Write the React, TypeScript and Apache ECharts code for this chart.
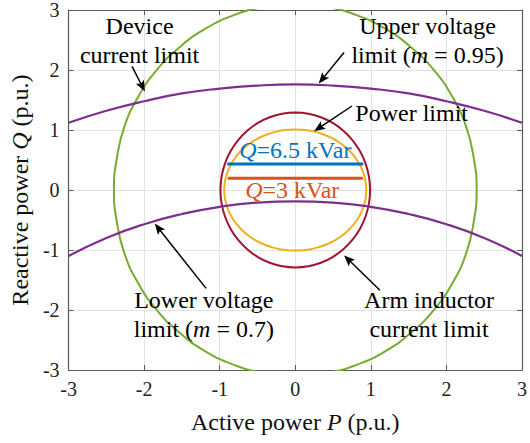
import React, { useEffect, useRef } from "react";
import * as echarts from "echarts";

const FONT = "Liberation Serif, serif";

// Axis ticks (p.u.)
const P_TICKS = [-3, -2, -1, 0, 1, 2, 3];
const Q_TICKS = [-3, -2, -1, 0, 1, 2, 3];

// Device current limit (ellipse), [P, Q], clockwise from the top
const deviceCurrentLimit = [
  [0, 3.1], [0.42, 3.05], [0.82, 2.91], [1.2, 2.68], [1.54, 2.37], [1.84, 1.99], [2.08, 1.55],
  [2.26, 1.06], [2.36, 0.54], [2.4, 0], [2.36, -0.54], [2.26, -1.06], [2.08, -1.55],
  [1.84, -1.99], [1.54, -2.37], [1.2, -2.68], [0.82, -2.91], [0.42, -3.05], [0, -3.1],
  [-0.42, -3.05], [-0.82, -2.91], [-1.2, -2.68], [-1.54, -2.37], [-1.84, -1.99], [-2.08, -1.55],
  [-2.26, -1.06], [-2.36, -0.54], [-2.4, 0], [-2.36, 0.54], [-2.26, 1.06], [-2.08, 1.55],
  [-1.84, 1.99], [-1.54, 2.37], [-1.2, 2.68], [-0.82, 2.91], [-0.42, 3.05], [0, 3.1],
];

// Arm inductor current limit
const armInductorLimit = [
  [0, 1.29], [0.172, 1.27], [0.339, 1.212], [0.495, 1.117], [0.636, 0.988], [0.758, 0.829],
  [0.857, 0.645], [0.93, 0.441], [0.975, 0.224], [0.99, 0], [0.975, -0.224], [0.93, -0.441],
  [0.857, -0.645], [0.758, -0.829], [0.636, -0.988], [0.495, -1.117], [0.339, -1.212],
  [0.172, -1.27], [0, -1.29], [-0.172, -1.27], [-0.339, -1.212], [-0.495, -1.117],
  [-0.636, -0.988], [-0.758, -0.829], [-0.857, -0.645], [-0.93, -0.441], [-0.975, -0.224],
  [-0.99, 0], [-0.975, 0.224], [-0.93, 0.441], [-0.857, 0.645], [-0.758, 0.829],
  [-0.636, 0.988], [-0.495, 1.117], [-0.339, 1.212], [-0.172, 1.27], [0, 1.29],
];

// Power limit
const powerLimit = [
  [0, 1.01], [0.163, 0.995], [0.321, 0.949], [0.47, 0.875], [0.604, 0.774], [0.72, 0.649],
  [0.814, 0.505], [0.883, 0.345], [0.926, 0.175], [0.94, 0], [0.926, -0.175], [0.883, -0.345],
  [0.814, -0.505], [0.72, -0.649], [0.604, -0.774], [0.47, -0.875], [0.321, -0.949],
  [0.163, -0.995], [0, -1.01], [-0.163, -0.995], [-0.321, -0.949], [-0.47, -0.875],
  [-0.604, -0.774], [-0.72, -0.649], [-0.814, -0.505], [-0.883, -0.345], [-0.926, -0.175],
  [-0.94, 0], [-0.926, 0.175], [-0.883, 0.345], [-0.814, 0.505], [-0.72, 0.649],
  [-0.604, 0.774], [-0.47, 0.875], [-0.321, 0.949], [-0.163, 0.995], [0, 1.01],
];

// Upper voltage limit (m = 0.95)
const upperVoltageLimit = [
  [-3, 1.12], [-2.5, 1.32], [-2, 1.48], [-1.5, 1.61], [-1, 1.69], [-0.5, 1.74], [0, 1.76],
  [0.5, 1.74], [1, 1.69], [1.5, 1.61], [2, 1.48], [2.5, 1.32], [3, 1.12],
];

// Lower voltage limit (m = 0.7)
const lowerVoltageLimit = [
  [-3, -1.1], [-2.5, -0.8], [-2, -0.57], [-1.5, -0.4], [-1, -0.28], [-0.5, -0.21], [0, -0.19],
  [0.5, -0.21], [1, -0.28], [1.5, -0.4], [2, -0.57], [2.5, -0.8], [3, -1.1],
];

// Operating points
const q65Line = [[-0.9, 0.435], [0.9, 0.435]];
const q3Line = [[-0.895, 0.196], [0.895, 0.196]];

// Annotation arrows: [tail, tip] in (P, Q)
const arrows = [
  [[-2.16, 2.06], [-1.99, 1.64]],
  [[0.645, 2.29], [0.31, 1.775]],
  [[0.75, 1.4], [0.25, 0.98]],
  [[-1.18, -1.64], [-1.86, -0.56]],
  [[1.12, -1.67], [0.645, -1.09]],
];

const COLORS = {
  green: "#77AC30",
  purple: "#7E2F8E",
  red: "#A2142F",
  yellow: "#EDB120",
  blue: "#0072BD",
  orange: "#D95319",
};

const AXIS_COLOR = "#5a5a5a";
const GRID_COLOR = "#e3e3e3";

export default function App() {
  const ref = useRef<HTMLDivElement>(null);

  useEffect(() => {
    if (!ref.current) return;
    const chart = echarts.init(ref.current, null, { renderer: "svg" });

    const baseAxis = {
      type: "value" as const,
      min: P_TICKS[0],
      max: P_TICKS[P_TICKS.length - 1],
      interval: 1,
      axisLine: { show: true, onZero: false, lineStyle: { color: AXIS_COLOR, width: 1.2 } },
      axisTick: { show: true, inside: true, length: 5, lineStyle: { color: AXIS_COLOR } },
    };

    const curve = (name: string, data: number[][], color: string, width = 2, smooth = true) => ({
      name,
      type: "line",
      data,
      smooth,
      showSymbol: false,
      symbol: "none",
      clip: true,
      lineStyle: { color, width },
      z: 3,
    });

    const nameStyle = {
      fontFamily: FONT,
      fontSize: 24,
      color: "#111",
      rich: { i: { fontFamily: FONT, fontSize: 24, fontStyle: "italic", color: "#111" } },
    };

    chart.setOption({
      animation: false,
      textStyle: { fontFamily: FONT },
      grid: { left: 65, right: 2.5, top: 9, bottom: 73 },
      xAxis: [
        {
          ...baseAxis,
          position: "bottom",
          splitLine: { show: true, lineStyle: { color: GRID_COLOR, width: 1 } },
          axisLabel: { fontFamily: FONT, fontSize: 20, color: "#222", margin: 9 },
          name: "Active power {i|P} (p.u.)",
          nameLocation: "middle",
          nameGap: 40,
          nameTextStyle: nameStyle,
        },
        {
          ...baseAxis,
          position: "top",
          splitLine: { show: false },
          axisLabel: { show: false },
        },
      ],
      yAxis: [
        {
          ...baseAxis,
          min: Q_TICKS[0],
          max: Q_TICKS[Q_TICKS.length - 1],
          position: "left",
          splitLine: { show: true, lineStyle: { color: GRID_COLOR, width: 1 } },
          axisLabel: { fontFamily: FONT, fontSize: 20, color: "#222", margin: 9 },
          name: "Reactive power {i|Q} (p.u.)",
          nameLocation: "middle",
          nameGap: 32,
          nameTextStyle: nameStyle,
        },
        {
          ...baseAxis,
          min: Q_TICKS[0],
          max: Q_TICKS[Q_TICKS.length - 1],
          position: "right",
          splitLine: { show: false },
          axisLabel: { show: false },
        },
      ],
      series: [
        curve("Device current limit", deviceCurrentLimit, COLORS.green),
        curve("Arm inductor current limit", armInductorLimit, COLORS.red),
        curve("Power limit", powerLimit, COLORS.yellow),
        curve("Upper voltage limit", upperVoltageLimit, COLORS.purple, 2.2),
        curve("Lower voltage limit", lowerVoltageLimit, COLORS.purple, 2.2),
        curve("Q=6.5 kVar", q65Line, COLORS.blue, 3, false),
        curve("Q=3 kVar", q3Line, COLORS.orange, 3, false),
      ],
    });

    const px = (p: number[]) => chart.convertToPixel({ seriesIndex: 0 }, p) as number[];

    // Arrow shafts and heads, anchored in (P, Q)
    const arrowGraphics: any[] = [];
    arrows.forEach(([tail, tip]) => {
      const [x0, y0] = px(tail);
      const [x1, y1] = px(tip);
      const len = Math.hypot(x1 - x0, y1 - y0);
      const ux = (x1 - x0) / len;
      const uy = (y1 - y0) / len;
      const nx = -uy;
      const ny = ux;
      const headLen = 11;
      const headHalf = 4.5;
      const bx = x1 - ux * headLen;
      const by = y1 - uy * headLen;
      arrowGraphics.push({
        type: "line",
        silent: true,
        z: 20,
        shape: { x1: x0, y1: y0, x2: x1 - ux * 6, y2: y1 - uy * 6 },
        style: { stroke: "#000", lineWidth: 1.5 },
      });
      arrowGraphics.push({
        type: "polygon",
        silent: true,
        z: 20,
        shape: {
          points: [
            [x1, y1],
            [bx + nx * headHalf, by + ny * headHalf],
            [x1 - ux * headLen * 0.8, y1 - uy * headLen * 0.8],
            [bx - nx * headHalf, by - ny * headHalf],
          ],
        },
        style: { fill: "#000" },
      });
    });

    // Annotation texts, anchored in (P, Q)
    const italic = { fontFamily: FONT, fontSize: 24, fontStyle: "italic" };
    const labels = [
      { at: [-2.06, 2.5], text: "Device\ncurrent limit", fill: "#000" },
      { at: [1.75, 2.49], text: "Upper voltage\nlimit ({i|m} = 0.95)", fill: "#000" },
      { at: [1.54, 1.29], text: "Power limit", fill: "#000" },
      { at: [-1.21, -2.07], text: "Lower voltage\nlimit ({i|m} = 0.7)", fill: "#000" },
      { at: [1.77, -2.07], text: "Arm inductor\ncurrent limit", fill: "#000" },
      { at: [0.0, 0.67], text: "{i|Q}=6.5 kVar", fill: COLORS.blue },
      { at: [-0.04, 0.0], text: "{i|Q}=3 kVar", fill: COLORS.orange },
    ];

    const textGraphics = labels.map((l) => {
      const [x, y] = px(l.at);
      return {
        type: "text",
        x,
        y,
        z: 10,
        silent: true,
        style: {
          text: l.text,
          fill: l.fill,
          fontFamily: FONT,
          fontSize: 24,
          lineHeight: 29,
          align: "center",
          verticalAlign: "middle",
          rich: { i: { ...italic, fill: l.fill, lineHeight: 29 } },
        },
      };
    });

    chart.setOption({ graphic: [...textGraphics, ...arrowGraphics] });

    return () => chart.dispose();
  }, []);

  return (
    <div
      ref={ref}
      style={{ position: "fixed", left: 0, top: 0, width: 530, height: 443, background: "#fff" }}
    />
  );
}
